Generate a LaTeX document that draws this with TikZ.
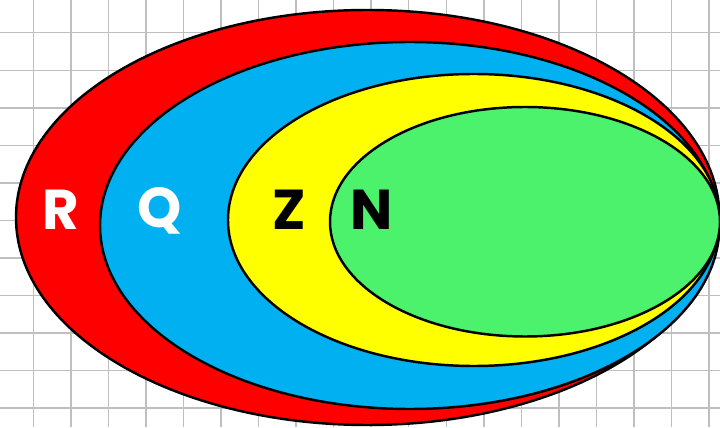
\documentclass[tikz,border=0pt]{standalone}
\usepackage{fontspec}
\newfontfamily\roundfont{Poppins}[UprightFont=* Bold]
\colorlet{gridink}{black!25}
\definecolor{setR}{RGB}{255,0,0}
\definecolor{setQ}{RGB}{0,176,240}
\definecolor{setZ}{RGB}{255,255,0}
\definecolor{setN}{RGB}{76,242,108}
\tikzset{
  setline/.style={draw=black, line width=1.4pt},
  setlabel/.style={font=\roundfont\fontsize{32}{32}\selectfont, inner sep=0pt}
}

\begin{document}
\begin{tikzpicture}
  \useasboundingbox (0,0) rectangle (14.400,8.540);
  \fill[white] (0,0) rectangle (14.400,8.540);
\draw[gridink, line width=0.8pt] (0.666,0) -- (0.666,8.540);
\draw[gridink, line width=0.8pt] (1.417,0) -- (1.417,8.540);
\draw[gridink, line width=0.8pt] (2.168,0) -- (2.168,8.540);
\draw[gridink, line width=0.8pt] (2.918,0) -- (2.918,8.540);
\draw[gridink, line width=0.8pt] (3.669,0) -- (3.669,8.540);
\draw[gridink, line width=0.8pt] (4.420,0) -- (4.420,8.540);
\draw[gridink, line width=0.8pt] (5.171,0) -- (5.171,8.540);
\draw[gridink, line width=0.8pt] (5.922,0) -- (5.922,8.540);
\draw[gridink, line width=0.8pt] (6.672,0) -- (6.672,8.540);
\draw[gridink, line width=0.8pt] (7.423,0) -- (7.423,8.540);
\draw[gridink, line width=0.8pt] (8.174,0) -- (8.174,8.540);
\draw[gridink, line width=0.8pt] (8.925,0) -- (8.925,8.540);
\draw[gridink, line width=0.8pt] (9.676,0) -- (9.676,8.540);
\draw[gridink, line width=0.8pt] (10.426,0) -- (10.426,8.540);
\draw[gridink, line width=0.8pt] (11.177,0) -- (11.177,8.540);
\draw[gridink, line width=0.8pt] (11.928,0) -- (11.928,8.540);
\draw[gridink, line width=0.8pt] (12.679,0) -- (12.679,8.540);
\draw[gridink, line width=0.8pt] (13.430,0) -- (13.430,8.540);
\draw[gridink, line width=0.8pt] (14.180,0) -- (14.180,8.540);
\draw[gridink, line width=0.8pt] (0,7.886) -- (14.400,7.886);
\draw[gridink, line width=0.8pt] (0,7.135) -- (14.400,7.135);
\draw[gridink, line width=0.8pt] (0,6.384) -- (14.400,6.384);
\draw[gridink, line width=0.8pt] (0,5.634) -- (14.400,5.634);
\draw[gridink, line width=0.8pt] (0,4.883) -- (14.400,4.883);
\draw[gridink, line width=0.8pt] (0,4.132) -- (14.400,4.132);
\draw[gridink, line width=0.8pt] (0,3.381) -- (14.400,3.381);
\draw[gridink, line width=0.8pt] (0,2.630) -- (14.400,2.630);
\draw[gridink, line width=0.8pt] (0,1.880) -- (14.400,1.880);
\draw[gridink, line width=0.8pt] (0,1.129) -- (14.400,1.129);
\draw[gridink, line width=0.8pt] (0,0.378) -- (14.400,0.378);
% nested sets, outermost first
\filldraw[setline, fill=setR] (7.355,4.190) ellipse (7.035 and 4.150);
\filldraw[setline, fill=setQ] (8.195,4.030) ellipse (6.195 and 3.670);
\filldraw[setline, fill=setZ] (9.475,4.140) ellipse (4.915 and 2.920);
\filldraw[setline, fill=setN] (10.500,4.105) ellipse (3.900 and 2.295);
\node[setlabel, text=white] (lblR) at (1.220,4.340) {R};
\node[setlabel, text=white] (lblQ) at (3.200,4.320) {Q};
\node[setlabel, text=black] (lblZ) at (5.780,4.340) {Z};
\node[setlabel, text=black] (lblN) at (7.440,4.340) {N};

\end{tikzpicture}
\end{document}
